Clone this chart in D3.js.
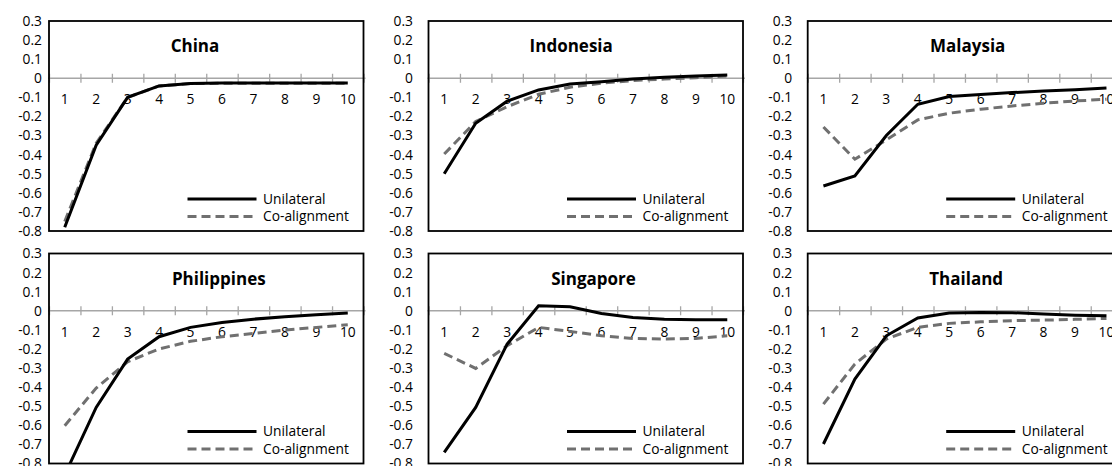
<!DOCTYPE html>
<html>
<head>
<meta charset="utf-8">
<script src="https://cdn.jsdelivr.net/npm/d3@7"></script>
<style>
  body { margin: 0; background: #fff; }
  svg { display: block; }
</style>
</head>
<body>
<script>
  const periods = [1, 2, 3, 4, 5, 6, 7, 8, 9, 10];
  const yTicks = [0.3, 0.2, 0.1, 0, -0.1, -0.2, -0.3, -0.4, -0.5, -0.6, -0.7, -0.8];
  const seriesNames = ['Unilateral', 'Co-alignment'];
  const countries = ['China', 'Indonesia', 'Malaysia', 'Philippines', 'Singapore', 'Thailand'];

  const chinaUni = [-0.78, -0.35, -0.10, -0.04, -0.027, -0.025, -0.025, -0.025, -0.025, -0.025];
  const chinaCo = [-0.75, -0.34, -0.10, -0.04, -0.028, -0.026, -0.026, -0.026, -0.026, -0.026];
  const indonesiaUni = [-0.50, -0.236, -0.12, -0.061, -0.03, -0.018, -0.004, 0.005, 0.012, 0.017];
  const indonesiaCo = [-0.397, -0.227, -0.149, -0.084, -0.047, -0.026, -0.012, -0.004, 0.003, 0.012];
  const malaysiaUni = [-0.564, -0.512, -0.30, -0.136, -0.096, -0.085, -0.075, -0.067, -0.06, -0.051];
  const malaysiaCo = [-0.255, -0.424, -0.323, -0.218, -0.183, -0.162, -0.145, -0.131, -0.119, -0.11];
  const philippinesUni = [-0.86, -0.506, -0.253, -0.136, -0.087, -0.061, -0.044, -0.031, -0.021, -0.012];
  const philippinesCo = [-0.602, -0.405, -0.267, -0.20, -0.16, -0.136, -0.119, -0.101, -0.087, -0.073];
  const singaporeUni = [-0.742, -0.506, -0.175, 0.026, 0.021, -0.014, -0.035, -0.044, -0.047, -0.047];
  const singaporeCo = [-0.223, -0.302, -0.183, -0.087, -0.108, -0.131, -0.145, -0.148, -0.145, -0.131];
  const thailandUni = [-0.698, -0.358, -0.131, -0.038, -0.012, -0.009, -0.01, -0.017, -0.023, -0.026];
  const thailandCo = [-0.489, -0.279, -0.148, -0.087, -0.066, -0.058, -0.052, -0.049, -0.045, -0.04];

  const uniSeries = [chinaUni, indonesiaUni, malaysiaUni, philippinesUni, singaporeUni, thailandUni];
  const coSeries = [chinaCo, indonesiaCo, malaysiaCo, philippinesCo, singaporeCo, thailandCo];

  // layout of the six excel-style panels
  const colLeft = [49, 428.5, 807.7];
  const rowTop = [21, 253.5];
  const labelGap = [7, 15.5, 15.5];
  const titleX = [146, 142.7, 160, 169.8, 165, 158.5];
  const width = 314.5;
  const height = 210;
  const font = '"Open Sans", sans-serif';
  const fontSize = '13.8px';

  const svg = d3.select('body').append('svg')
    .attr('width', 1112)
    .attr('height', 466)
    .style('font-family', font);

  svg.append('rect')
    .attr('width', 1112)
    .attr('height', 466)
    .attr('fill', '#fff');

  const x = d3.scalePoint()
    .domain(periods)
    .range([0, width])
    .padding(0.5);

  const xEdge = d3.scaleLinear()
    .domain([0.5, 10.5])
    .range([0, width]);

  const y = d3.scaleLinear()
    .domain([-0.8, 0.3])
    .range([height, 0]);

  const line = d3.line()
    .x((d, i) => x(periods[i]))
    .y(d => y(d));

  countries.forEach((name, k) => {
    const col = k % 3;
    const row = Math.floor(k / 3);
    const g = svg.append('g')
      .attr('transform', `translate(${colLeft[col]}, ${rowTop[row]})`);

    g.append('clipPath')
      .attr('id', 'clip' + k)
      .append('rect')
      .attr('width', width)
      .attr('height', height);

    // y labels
    g.append('g')
      .call(d3.axisLeft(y)
        .tickValues(yTicks)
        .tickSize(0)
        .tickPadding(labelGap[col])
        .tickFormat(d => d === 0 ? '0' : d.toFixed(1)))
      .call(a => a.select('.domain').remove())
      .selectAll('text')
      .attr('fill', '#000')
      .style('font-family', font)
      .style('font-size', fontSize);

    // zero line with category separators
    const zero = g.append('g')
      .attr('transform', `translate(0, ${y(0)})`)
      .call(d3.axisBottom(xEdge)
        .tickValues(d3.range(0.5, 11, 1))
        .tickSize(9)
        .tickFormat(''));
    zero.select('.domain')
      .attr('stroke', '#a6a6a6')
      .attr('stroke-width', 1.5)
      .attr('d', `M-1,0H${width + 2}`);
    zero.selectAll('.tick line')
      .attr('stroke', '#a6a6a6')
      .attr('stroke-width', 1.3)
      .attr('y1', -4.5)
      .attr('y2', 4.5);

    // category labels
    g.append('g')
      .selectAll('text')
      .data(periods)
      .enter().append('text')
      .attr('x', d => x(d))
      .attr('y', y(0) + 21)
      .attr('dy', '0.35em')
      .attr('text-anchor', 'middle')
      .style('font-size', fontSize)
      .text(d => d);

    const plot = g.append('g').attr('clip-path', `url(#clip${k})`);

    plot.append('path')
      .datum(coSeries[k])
      .attr('d', line)
      .attr('fill', 'none')
      .attr('stroke', '#707070')
      .attr('stroke-width', 3)
      .attr('stroke-dasharray', '9,5');

    plot.append('path')
      .datum(uniSeries[k])
      .attr('d', line)
      .attr('fill', 'none')
      .attr('stroke', '#000')
      .attr('stroke-width', 3);

    g.append('rect')
      .attr('width', width)
      .attr('height', height)
      .attr('fill', 'none')
      .attr('stroke', '#000')
      .attr('stroke-width', 1.8);

    g.append('text')
      .attr('x', titleX[k])
      .attr('y', 31)
      .attr('text-anchor', 'middle')
      .style('font-size', '17px')
      .style('font-weight', 'bold')
      .text(name);

    // legend
    const legend = g.append('g')
      .attr('transform', 'translate(138.5, 178)');
    seriesNames.forEach((s, i) => {
      legend.append('line')
        .attr('x1', 0)
        .attr('x2', 69)
        .attr('y1', i * 17.5)
        .attr('y2', i * 17.5)
        .attr('stroke', i === 0 ? '#000' : '#707070')
        .attr('stroke-width', 3)
        .attr('stroke-dasharray', i === 0 ? null : '9,5');
      legend.append('text')
        .attr('x', 75.5)
        .attr('y', i * 17.5)
        .attr('dy', '0.35em')
        .style('font-size', fontSize)
        .text(s);
    });
  });
</script>
</body>
</html>
